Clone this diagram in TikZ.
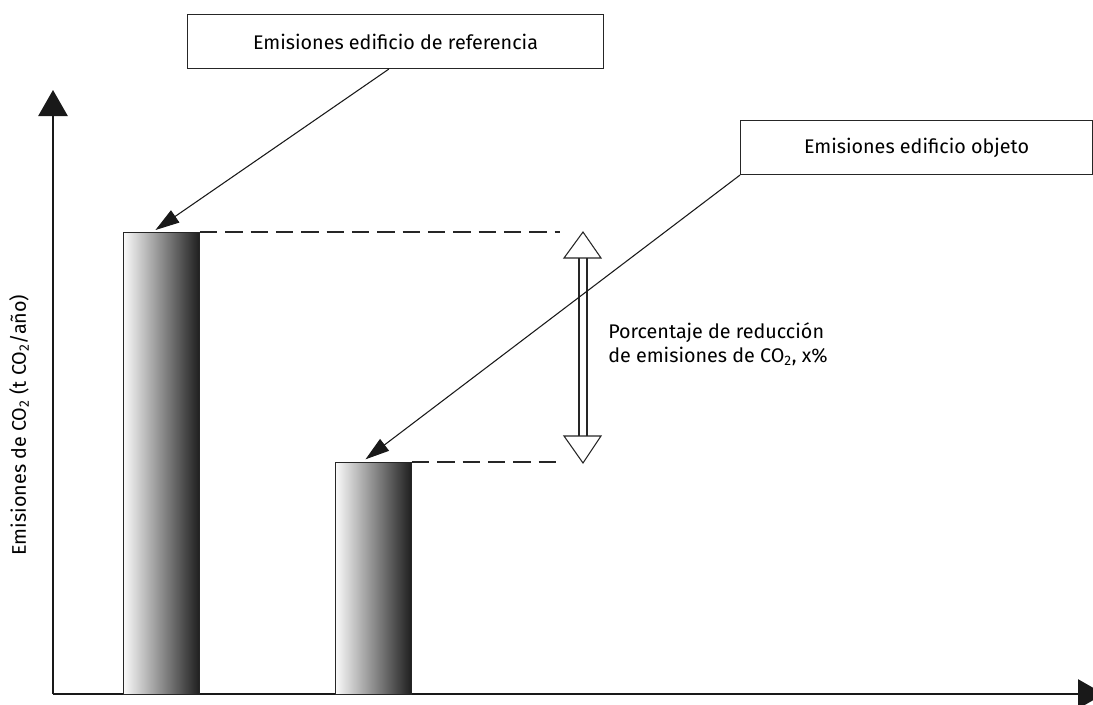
\documentclass[tikz,border=0pt]{standalone}
\usepackage{fontspec}
\setmainfont{Fira Sans}
\usetikzlibrary{arrows.meta,calc}
\begin{document}
\begin{tikzpicture}[x=0.75pt,y=-0.75pt,
  txt/.style={font=\fontsize{14.8}{18.5}\selectfont},
  box/.style={txt,draw=black!85,line width=0.8pt,inner sep=0pt,anchor=north west},
  bar/.style={draw=black!85,line width=0.7pt,anchor=north west,inner sep=0pt,
    minimum width=57pt,left color=black!2,middle color=black!40,right color=black!88},
  ptr/.style={line width=0.8pt,draw=black!90,-{Triangle[length=18pt,width=11pt]}},
  axis/.style={line width=1.1pt,draw=black!90,-{Triangle[length=19.5pt,width=22pt]}},
  guide/.style={line width=0.8pt,draw=black!85,dash pattern=on 13pt off 6pt},
  hollow/.style={line width=0.8pt,draw=black!85,fill=white}
]
\useasboundingbox (0,0) rectangle (1093,704);
\clip (0,0) rectangle (1093,704);

% axes
\coordinate (o) at (53,694);
\coordinate (ytop) at (53,90);
\coordinate (xend) at (1104,694);
\draw[axis] (o) -- (ytop);
\draw[axis] (o) -- (xend);

% bars
\node[bar,minimum height=346.5pt] (b1) at (123,232) {};
\node[bar,minimum height=174pt] (b2) at (335,462) {};

% boxes
\node[box,minimum width=312pt,minimum height=40.5pt] (box1) at (187,14)
  {Emisiones edificio de referencia};
\node[box,minimum width=264pt,minimum height=40.5pt] (box2) at (740,120)
  {Emisiones edificio objeto};

% dashed guides
\coordinate (g1) at (560,232);
\coordinate (g2) at (560,462);
\draw[guide] (b1.north east) -- (g1);
\draw[guide] (b2.north east) -- (g2);

% double arrow (hollow)
\coordinate (ut) at (583,232);
\coordinate (dt) at (583,463);
\draw[hollow] (ut) -- (601,258) -- (564,258) -- cycle;
\draw[hollow] (dt) -- (564,436) -- (601,436) -- cycle;
\draw[line width=0.8pt,draw=black!85] (579,258) -- (579,436) (587,258) -- (587,436);

% label
\node[txt,anchor=north west,align=left,inner sep=0pt] (lbl) at (608,322)
  {Porcentaje de reducción\\de emisiones de CO\textsubscript{2}, x\%};

% y label
\node[txt,rotate=90] (ylab) at (19,425)
  {Emisiones de CO\textsubscript{2} (t CO\textsubscript{2}/año)};

% pointers
\draw[ptr] ([xshift=-5pt]box1.south) -- ([xshift=-4.5pt,yshift=1.5pt]b1.north);
\draw[ptr] (box2.south west) -- ([xshift=-6pt,yshift=2pt]b2.north);
\end{tikzpicture}
\end{document}
